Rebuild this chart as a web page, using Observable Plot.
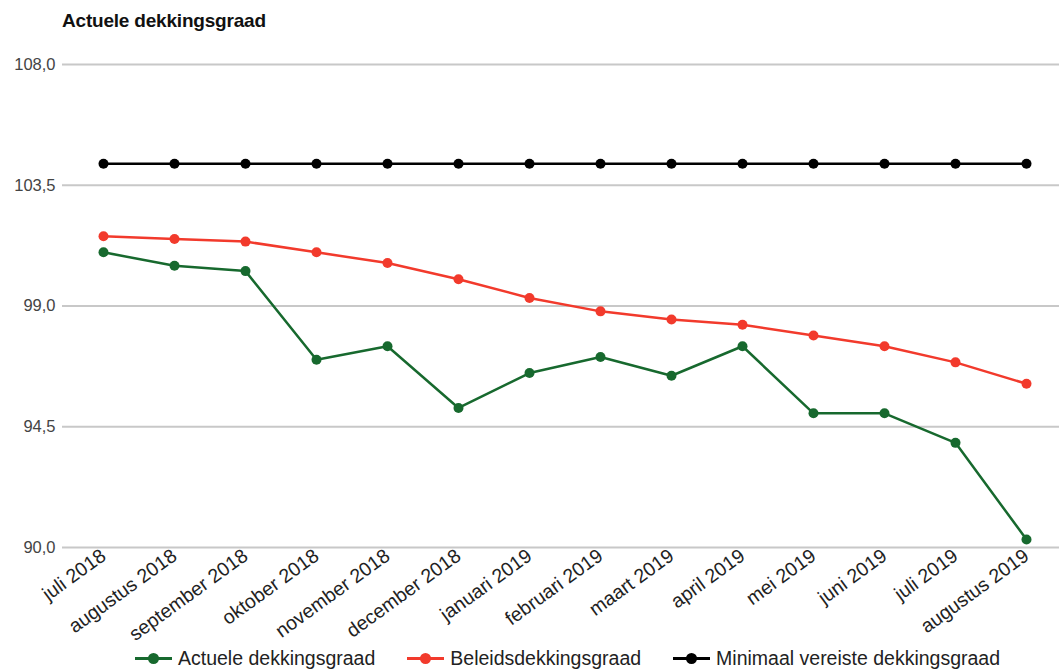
<!DOCTYPE html>
<html>
<head>
<meta charset="utf-8">
<script src="https://cdn.jsdelivr.net/npm/d3@7"></script>
<script src="https://cdn.jsdelivr.net/npm/@observablehq/plot@0.6"></script>
<style>
  html, body { margin: 0; padding: 0; background: #fff; }
  body { width: 1059px; height: 670px; overflow: hidden; font-family: "Liberation Sans", Arial, sans-serif; }
  #title { height: 40px; box-sizing: border-box; padding: 10px 0 0 62px; font-size: 19px; font-weight: bold; color: #111; letter-spacing: -0.2px; }
  #legend { display: flex; justify-content: flex-start; gap: 32px; font-size: 19.5px; line-height: 22px; color: #222; margin-top: 1px; padding-left: 135px; white-space: nowrap; }
  .item { display: flex; align-items: center; gap: 6px; }
  .sw { position: relative; width: 37px; height: 12px; }
  .sw .l { position: absolute; left: 0; right: 0; top: 5px; height: 3px; }
  .sw .d { position: absolute; left: 13px; top: 1px; width: 11px; height: 11px; border-radius: 50%; }
</style>
</head>
<body>
<div id="title">Actuele dekkingsgraad</div>
<div id="chart"></div>
<div id="legend"></div>
<script>
const months = ["juli 2018","augustus 2018","september 2018","oktober 2018","november 2018","december 2018","januari 2019","februari 2019","maart 2019","april 2019","mei 2019","juni 2019","juli 2019","augustus 2019"];
const actuele = [101.0, 100.5, 100.3, 97.0, 97.5, 95.2, 96.5, 97.1, 96.4, 97.5, 95.0, 95.0, 93.9, 90.3];
const beleids = [101.6, 101.5, 101.4, 101.0, 100.6, 100.0, 99.3, 98.8, 98.5, 98.3, 97.9, 97.5, 96.9, 96.1];
const minimaal = [104.3, 104.3, 104.3, 104.3, 104.3, 104.3, 104.3, 104.3, 104.3, 104.3, 104.3, 104.3, 104.3, 104.3];
const yTicks = [90, 94.5, 99, 103.5, 108];
const seriesNames = ["Actuele dekkingsgraad", "Beleidsdekkingsgraad", "Minimaal vereiste dekkingsgraad"];
const seriesColors = ["#17692e", "#f23a2c", "#000000"];

const data = [];
[actuele, beleids, minimaal].forEach((vals, s) => {
  vals.forEach((v, i) => data.push({month: months[i], value: v, series: seriesNames[s]}));
});

const fmt = d => d3.format(".1f")(d).replace(".", ",");

const chart = Plot.plot({
  width: 1059,
  height: 606,
  marginTop: 24,
  marginLeft: 62,
  marginRight: 0,
  marginBottom: 99,
  style: {fontFamily: "'Liberation Sans', Arial, sans-serif", fontSize: "14px", background: "#fff", display: "block"},
  x: {type: "point", domain: months, padding: 0.433, align: 0.56, label: null},
  y: {domain: [90, 108], label: null},
  color: {domain: seriesNames, range: seriesColors},
  marks: [
    Plot.ruleY(yTicks, {stroke: "#c8c8c8", strokeWidth: 2}),
    Plot.axisY({ticks: yTicks, tickFormat: fmt, tickSize: 0, tickPadding: 7, fontSize: 16.5, fill: "#444", label: null}),
    Plot.axisX({tickSize: 0, tickRotate: -36, tickPadding: 6, fontSize: 19.5, fill: "#222", label: null}),
    Plot.line(data, {x: "month", y: "value", z: "series", stroke: "series", strokeWidth: 2.5}),
    Plot.dot(data, {x: "month", y: "value", fill: "series", r: 5})
  ]
});
document.getElementById("chart").appendChild(chart);

const legend = document.getElementById("legend");
seriesNames.forEach((n, i) => {
  const it = document.createElement("div");
  it.className = "item";
  it.innerHTML = `<span class="sw"><span class="l" style="background:${seriesColors[i]}"></span><span class="d" style="background:${seriesColors[i]}"></span></span><span>${n}</span>`;
  legend.appendChild(it);
});
</script>
</body>
</html>
